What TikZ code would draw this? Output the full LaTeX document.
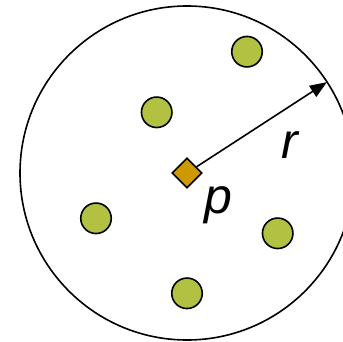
\documentclass[tikz,border=0pt]{standalone}
\usepackage{fontspec}
\setmainfont{Liberation Sans}
\usetikzlibrary{arrows.meta,shapes.geometric}
\definecolor{PointGreen}{HTML}{B2C142}
\definecolor{QueryGold}{HTML}{CC9900}

\begin{document}
\begin{tikzpicture}[
    x=1pt,y=1pt,
    font=\fontsize{50}{50}\selectfont\itshape,
    searchball/.style={draw=black,circle,line width=1.6pt,minimum size=334pt,inner sep=0pt},
    datapt/.style={draw=black,circle,fill=PointGreen,line width=1.6pt,minimum size=30.5pt,inner sep=0pt},
    query/.style={draw=black,diamond,fill=QueryGold,line width=1.6pt,minimum size=30pt,inner sep=0pt},
    radius arrow/.style={-{Stealth[length=17pt,width=13pt,inset=0pt]},line width=1.6pt}
  ]
    \useasboundingbox (0,0) rectangle (343,341);
    \node[searchball] (ball) at (187,168) {};
    \node[query] (q) at (187,168) {};
    \node[datapt] (a) at (247,289.3) {};
    \node[datapt] (b) at (156.7,228.7) {};
    \node[datapt] (c) at (96,122.7) {};
    \node[datapt] (d) at (277.7,107.7) {};
    \node[datapt] (e) at (187,47.7) {};
    \coordinate (rim) at ([shift={(33.5:-1pt)}]ball.33.5);

    \draw[radius arrow] (q) -- (rim);
    \node[inner sep=0pt] (rlabel) at (290,196) {r};
    \node[inner sep=0pt] (plabel) at (218.7,135.3) {p};
\end{tikzpicture}
\end{document}
